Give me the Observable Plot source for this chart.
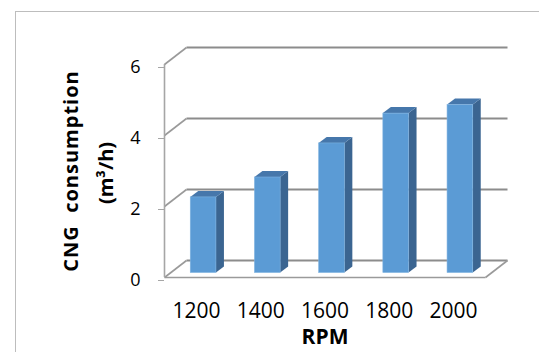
<!DOCTYPE html>
<html><head><meta charset="utf-8">
<script src="https://cdn.jsdelivr.net/npm/d3@7"></script>
<script src="https://cdn.jsdelivr.net/npm/@observablehq/plot@0.6"></script>
<style>
html,body{margin:0;padding:0;background:#fff;}
#wrap{position:relative;width:539px;height:352px;overflow:hidden;}
#border{position:absolute;left:15px;top:11px;width:600px;height:400px;border-left:1.5px solid #bdbdbd;border-top:1.5px solid #bdbdbd;}
#chart{position:absolute;left:0;top:0;}
</style></head><body>
<div id="wrap"><div id="border"></div><div id="chart"></div></div>
<script>
// ---- data ----
const rpm = ["1200", "1400", "1600", "1800", "2000"];
const consumption = [2.13, 2.69, 3.65, 4.49, 4.73];
const yTicks = [0, 2, 4, 6];
const yTitle = "CNG  consumption";
const yUnit = "(m³/h)";
const xTitle = "RPM";

// ---- layout ----
const W = 539, H = 352, mL = 164, mR = 54, mT = 64, mB = H - 277;
const xDomain = [-0.5, rpm.length - 0.5], yDomain = [0, 6];
const pxX = (W - mL - mR) / (xDomain[1] - xDomain[0]);
const pxY = (H - mT - mB) / (yDomain[1] - yDomain[0]);
const depth = {dx: 22 / pxX, dy: 17 / pxY};      // wall depth
const plane = {dx: 7 / pxX, dy: 4.5 / pxY};      // bar front plane
const bdep = {dx: 8 / pxX, dy: 6 / pxY};         // bar depth
const halfW = 0.2;

const bars = rpm.map((r, i) => ({i, r, v: consumption[i]}));
const sideFace = bars.flatMap(d => {
  const xr = d.i + halfW + plane.dx;
  return [
    {i: d.i, x: xr, y1: plane.dy, y2: d.v + plane.dy},
    {i: d.i, x: xr + bdep.dx, y1: plane.dy + bdep.dy, y2: d.v + plane.dy + bdep.dy}
  ];
});
const topFace = bars.flatMap(d => {
  const xl = d.i - halfW + plane.dx, xr = d.i + halfW + plane.dx, y = d.v + plane.dy;
  return [
    {i: d.i, y, x1: xl, x2: xr},
    {i: d.i, y: y + bdep.dy, x1: xl + bdep.dx, x2: xr + bdep.dx}
  ];
});

const xa = xDomain[0], xb = xDomain[1];
const backGrid = yTicks.map(k => ({x1: xa + depth.dx, y1: k + depth.dy, x2: xb + depth.dx, y2: k + depth.dy}));
const diag = yTicks.map(k => ({x1: xa, y1: k, x2: xa + depth.dx, y2: k + depth.dy}));
const floorLines = [
  {x1: xa, y1: 0, x2: xb, y2: 0},
  {x1: xb, y1: 0, x2: xb + depth.dx, y2: depth.dy}
];

const chart = Plot.plot({
  width: W, height: H,
  marginLeft: mL, marginRight: mR, marginTop: mT, marginBottom: mB,
  x: {type: "linear", domain: xDomain, axis: null},
  y: {type: "linear", domain: yDomain, axis: null},
  style: {fontFamily: "'Open Sans', sans-serif", background: "transparent", color: "#000"},
  marks: [
    Plot.link(backGrid, {x1: "x1", y1: "y1", x2: "x2", y2: "y2", stroke: "#8c8c8c", strokeWidth: 2}),
    Plot.link(diag, {x1: "x1", y1: "y1", x2: "x2", y2: "y2", stroke: "#9a9a9a", strokeWidth: 1.6}),
    Plot.link(floorLines, {x1: "x1", y1: "y1", x2: "x2", y2: "y2", stroke: "#9a9a9a", strokeWidth: 1.6}),
    Plot.ruleX([xa], {y1: yDomain[0], y2: yDomain[1], stroke: "#a6a6a6", strokeWidth: 1.6}),
    Plot.areaY(sideFace, {x: "x", y1: "y1", y2: "y2", z: "i", fill: "#3b6591"}),
    Plot.areaX(topFace, {y: "y", x1: "x1", x2: "x2", z: "i", fill: "#4677ab"}),
    Plot.rect(bars, {
      x1: d => d.i - halfW + plane.dx, x2: d => d.i + halfW + plane.dx,
      y1: () => plane.dy, y2: d => d.v + plane.dy,
      fill: "#5b9bd5", stroke: "#7eb2e0", strokeWidth: 0.6
    }),
    Plot.axisY({ticks: yTicks, tickFormat: d => String(d), tickSize: 6, tickPadding: 18, fontSize: 18, stroke: "#a6a6a6", fill: "#000", dy: 3, label: null}),
    Plot.axisX({ticks: rpm.map((r, i) => i), tickFormat: i => rpm[i], tickSize: 0, tickPadding: 26, fontSize: 21, fill: "#000", label: null}),
    Plot.text([xTitle], {frameAnchor: "bottom", lineAnchor: "middle", textAnchor: "middle", dy: 60, fontSize: 21, fontWeight: "bold", fill: "#000"}),
    Plot.text([yTitle], {frameAnchor: "left", lineAnchor: "middle", textAnchor: "middle", rotate: -90, dx: -93, fontSize: 20, fontWeight: "bold", fill: "#000"}),
    Plot.text([yUnit], {frameAnchor: "left", lineAnchor: "middle", textAnchor: "middle", rotate: -90, dx: -58, dy: 2, fontSize: 20, fontWeight: "bold", fill: "#000"})
  ]
});
// slight tracking on the y title, as in the reference
d3.select(chart).selectAll("text").filter(function() { return this.textContent === yTitle; }).attr("letter-spacing", 1);
document.getElementById("chart").appendChild(chart);
</script>
</body></html>
